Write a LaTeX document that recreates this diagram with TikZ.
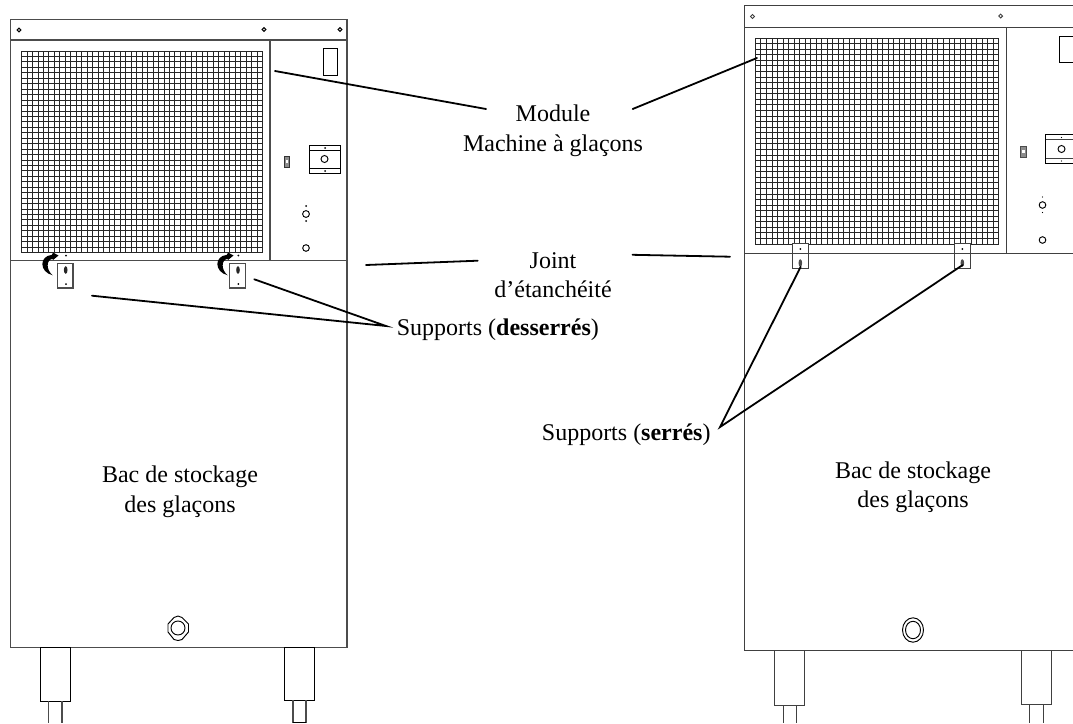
\documentclass[tikz,border=0pt]{standalone}
\usepackage{fontspec}
\setmainfont{Liberation Serif}
\tikzset{
  frameline/.style={draw=black!70,line width=1.35pt},
  frameright/.style={draw=black!75,line width=1pt},
  thinline/.style={draw=black,line width=0.95pt},
  meshline/.style={draw=black!85,line width=0.8pt},
  leader/.style={draw=black,line width=1.8pt,line cap=round},
  lbl/.style={anchor=base,inner sep=0pt,font=\fontsize{24}{28}\selectfont}
}
\begin{document}
\begin{tikzpicture}[x=1pt,y=-1pt]
\useasboundingbox (0,0) rectangle (1073,723);
\clip (0,0) rectangle (1073,723);
% ---------- left machine
\draw[frameline] (10.5,19.5) rectangle (347,647.5);
\draw[frameline] (10.5,40) -- (347,40);
\draw[frameline] (10.5,260.5) -- (347,260.5);
\draw[frameline] (270,40) -- (270,260.5);
\foreach \i in {0,...,44} \draw[meshline] ({21.5+\i*5.477},51) -- ({21.5+\i*5.477},252.5);
\foreach \i in {0,...,37} \draw[meshline] (21.5,{51+\i*5.446}) -- (262.5,{51+\i*5.446});
\foreach \p in {(19,30),(264,29.5),(340,29.5)} \draw[thinline,line width=1.1pt] \p circle (1.9);
\draw[thinline] (323,48) rectangle (337.5,75);
\draw[thinline] (309,145.5) rectangle (340.5,173.5);
\draw[thinline] (309,150.5) -- (340.5,150.5) (309,168.5) -- (340.5,168.5);
\draw[thinline] (324.5,159) circle (3.5);
\fill (325,148) circle (1) (325,171) circle (1);
\draw[draw=black!80,fill=black!45,line width=0.9pt] (284.5,156) rectangle (289.5,167);
\fill[white] (286,159.5) rectangle (288,163);
\draw[thinline] (306,214) circle (3.4);
\fill (306,206) circle (1) (306,221) circle (1);
\draw[thinline] (306,248) circle (3.3);
\foreach \dx in {0,172.3} {
  \draw[frameline,fill=white] ({57.5+\dx},263.5) rectangle ({73+\dx},288);
  \fill[black!85] ({65.7+\dx},270) ellipse (1.8 and 3.8);
  \fill ({66+\dx},284) circle (1) ({66+\dx},255.5) circle (1);
}
\foreach \dx in {0,175} {
  \fill[shift={(\dx,0)}] (52.8,275.3) .. controls (39,272) and (39,256) .. (52,254.8)
     -- (53,252.5) -- (58.5,255.5) -- (53,260) -- (52.5,258.8)
     .. controls (46,260) and (46,270) .. (52.8,275.3) -- cycle;
}
\draw[thinline] (178,616) -- (182,617.5) -- (188.5,624) -- (188.5,632) -- (182,639.5) -- (178,640.5) -- (174,639.5) -- (168,632) -- (168,624) -- (174,617.5) -- cycle;
\draw[thinline] (178,628) circle (7);
\draw[thinline] (40.5,647.5) rectangle (70.5,701);
\draw[frameline] (48.5,701) -- (48.5,723) (62,701) -- (62,723);
\draw[thinline] (284.5,647.5) rectangle (314.5,700);
\draw[frameline] (293,700) -- (293,722.5) (306,700) -- (306,722.5);
\draw[thinline] (293,722.5) -- (306,722.5);
% ---------- right machine
\draw[frameright] (1080,5.5) -- (744.5,5.5) -- (744.5,650) -- (1080,650);
\draw[frameright] (744.5,27) -- (1080,27);
\draw[frameright] (744.5,253) -- (1080,253);
\draw[frameright] (1006.7,27) -- (1006.7,253);
\foreach \i in {0,...,44} \draw[meshline] ({755.3+\i*5.532},38) -- ({755.3+\i*5.532},244);
\foreach \i in {0,...,37} \draw[meshline] (755.3,{38+\i*5.568}) -- (998.7,{38+\i*5.568});
\foreach \p in {(752.5,16.5),(1000.7,16)} \draw[frameright,line width=0.9pt] \p circle (1.9);
\draw[thinline] (1059.7,36) rectangle (1085,62);
\draw[thinline] (1045.5,134.5) rectangle (1085,163);
\draw[frameright] (1045.5,139) -- (1085,139) (1045.5,158) -- (1085,158);
\draw[thinline] (1061.5,149) circle (3.5);
\fill (1061.5,137.5) circle (0.7) (1061.5,161) circle (0.7);
\draw[draw=black!70,fill=black!45,line width=0.9pt] (1020.8,146) rectangle (1026,157);
\fill[white] (1022.3,149.5) rectangle (1024.5,153);
\draw[thinline] (1042.5,205) circle (3.3);
\fill (1042.5,197) circle (0.6) (1042.5,212.5) circle (0.6);
\draw[thinline] (1042.5,240) circle (3.3);
\foreach \xl in {792.5,954.5} {
  \draw[frameright,fill=white] (\xl,243.5) rectangle ({\xl+15.7},268);
  \fill ({\xl+7.8},249) circle (1);
  \fill[black!70] ({\xl+7.8},263) ellipse (1.8 and 3.8);
}
\draw[frameright] (792.5,253) -- (808.2,253) (954.5,253) -- (970.2,253);
\draw[thinline] (913,630) ellipse (10.5 and 12.2);
\draw[thinline] (913,630) ellipse (7.5 and 8.7);
\draw[frameright] (774.3,650) rectangle (804.7,705);
\draw[frameright] (783,705) -- (783,723) (796,705) -- (796,723);
\draw[frameright] (1021,650) rectangle (1051.7,704);
\draw[frameright] (1029.7,704) -- (1029.7,723) (1043,704) -- (1043,723);
% ---------- labels
\node[lbl] (module) at (553,121) {Module};
\node[lbl] (machine) at (553,151) {Machine à glaçons};
\node[lbl] (joint) at (553,268) {Joint};
\node[lbl] (etanch) at (553,297) {d’étanchéité};
\node[lbl,anchor=base west] (desserres) at (396.7,335) {Supports (\textbf{desserrés})};
\node[lbl,anchor=base west] (serres) at (541.7,440) {Supports (\textbf{serrés})};
\node[lbl] (bacl) at (180,482.7) {Bac de stockage};
\node[lbl] (glacl) at (180,512.7) {des glaçons};
\node[lbl] (bacr) at (913,478) {Bac de stockage};
\node[lbl] (glacr) at (913,507) {des glaçons};
% ---------- connectors
\coordinate (mL) at (275,71);
\coordinate (mLe) at (486,109);
\coordinate (mR) at (757,58);
\coordinate (mRe) at (632.7,109);
\coordinate (jL) at (366,265);
\coordinate (jLe) at (477.7,260.7);
\coordinate (jR) at (730,256.7);
\coordinate (jRe) at (632.5,254.8);
\coordinate (dApex) at (386,326);
\coordinate (d1) at (92,295.7);
\coordinate (d2) at (254.3,279.3);
\coordinate (sApex) at (720,427);
\coordinate (s1) at (800.7,266.7);
\coordinate (s2) at (962.7,265);
\draw[leader] (mL) -- (mLe);
\draw[leader] (mR) -- (mRe);
\draw[leader] (jL) -- (jLe);
\draw[leader] (jR) -- (jRe);
\draw[leader] (d1) -- (dApex) -- (d2);
\draw[leader] (s1) -- (sApex) -- (s2);
\end{tikzpicture}
\end{document}
